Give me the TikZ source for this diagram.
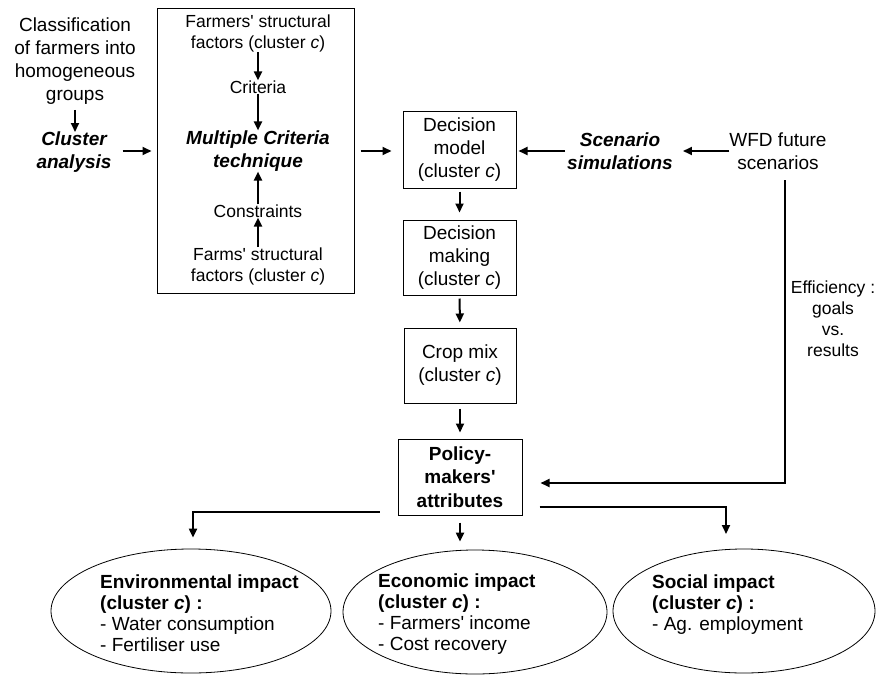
\documentclass[tikz,border=0pt]{standalone}
\usepackage{fontspec}
\setmainfont{Liberation Sans}
\usetikzlibrary{arrows.meta,shapes.geometric}

\begin{document}
\begin{tikzpicture}[x=1pt,y=-1pt,
    txt/.style={align=center, inner sep=0pt, font=\fontsize{19}{23}\selectfont},
    sml/.style={align=center, inner sep=0pt, font=\fontsize{17.5}{21}\selectfont},
    tech/.style={align=center, inner sep=0pt, font=\fontsize{19}{23}\selectfont\bfseries\itshape},
    stage/.style={draw, line width=1pt, align=center, inner sep=0pt, font=\fontsize{19}{23}\selectfont},
    impact/.style={draw, ellipse, line width=0.8pt, inner sep=0pt},
    itxt/.style={align=left, anchor=west, inner sep=0pt, font=\fontsize{19}{21}\selectfont},
    arr/.style={-{Triangle[length=9pt,width=8pt]}, line width=2pt}]
    \clip (0,0) rectangle (885,674);

    % clustering
    \node[txt] (cls) at (75,61) {Classification\\of farmers into\\homogeneous\\groups};
    \node[tech] (clu) at (74,152) {Cluster\\analysis};
    \draw[arr] (75,110) -- (75,132);

    % multiple criteria block
    \node[draw, line width=1pt, minimum width=197pt, minimum height=284pt] (mcbox) at (255.5,151) {};
    \node[sml] (fsf) at (258,33) {Farmers\textquotesingle{} structural\\factors (cluster \textit{c})};
    \node[sml] (crit) at (258,87) {Criteria};
    \node[tech] (mct) at (258,151) {Multiple Criteria\\technique};
    \node[sml] (cons) at (258,211) {Constraints};
    \node[sml] (farms) at (258,266) {Farms\textquotesingle{} structural\\factors (cluster \textit{c})};
    \draw[arr] (fsf) -- (crit);
    \draw[arr] (crit) -- (mct);
    \draw[arr] (cons) -- (mct);
    \draw[arr] (farms) -- (cons);
    \draw[arr, shorten <=11pt, shorten >=5pt] (clu.east |- mcbox.west) -- (mcbox.west);

    % decision chain
    \node[stage, minimum width=113pt, minimum height=76pt] (dm) at (459.5,150) {Decision\\model\\(cluster \textit{c})};
    \node[stage, minimum width=113pt, minimum height=75pt] (dmk) at (459.5,257.5) {Decision\\making\\(cluster \textit{c})};
    \node[stage, minimum width=112pt, minimum height=75pt] (crop) at (460,365.5) {Crop mix\\(cluster \textit{c})};
    \node[stage, minimum width=124pt, minimum height=76pt, font=\fontsize{19}{23.5}\selectfont\bfseries] (pol) at (460,477) {Policy-\\makers\textquotesingle\\attributes};
    \draw[arr, shorten <=6pt, shorten >=11pt] (mcbox.east) -- (dm.west |- mcbox.east);
    \draw[arr, shorten <=3pt, shorten >=7pt] (dm) -- (dmk);
    \draw[arr, shorten <=3pt, shorten >=5pt] (dmk) -- (crop);
    \draw[arr, shorten <=5pt, shorten >=6pt] (crop) -- (pol);

    % scenarios
    \node[tech] (scn) at (620,151) {Scenario\\simulations};
    \node[txt] (wfd) at (778,151) {WFD future\\scenarios};
    \draw[arr, shorten >=10pt] (wfd.west) -- (scn.east);
    \draw[arr, shorten <=2pt, shorten >=2pt] (scn.west) -- (dm.east |- scn.west);
    \coordinate (effa) at (785,180);
    \draw[arr] (effa) |- ([xshift=18pt,yshift=-6pt]pol.east);
    \node[sml] (eff) at (833,319) {Efficiency :\\goals\\vs.\\results};

    % impacts
    \node[impact, minimum width=280pt, minimum height=124pt] (env) at (191,611) {};
    \node[impact, minimum width=264pt, minimum height=124pt] (eco) at (475,612) {};
    \node[impact, minimum width=262pt, minimum height=124pt] (soc) at (744,611) {};
    \node[itxt] (envt) at (100,613) {\textbf{Environmental impact}\\\textbf{(cluster \textit{c}) :}\\- Water consumption\\- Fertiliser use};
    \node[itxt] (ecot) at (378,614) {\textbf{Economic impact}\\\textbf{(cluster \textit{c}) :}\\- Farmers\textquotesingle{} income\\- Cost recovery};
    \node[itxt] (soct) at (652,605) {\textbf{Social impact}\\\textbf{(cluster \textit{c}) :}\\- Ag. employment};
    \coordinate (socin) at (726,534);
    \draw[arr] ([xshift=-18pt,yshift=4pt]pol.south west) -| ([xshift=2pt,yshift=11pt]env.north);
    \draw[arr, shorten <=7pt, shorten >=8pt] (pol.south) -- (pol.south |- eco.north);
    \draw[arr] ([xshift=17pt,yshift=9pt]pol.south east) -| (socin);
\end{tikzpicture}
\end{document}
